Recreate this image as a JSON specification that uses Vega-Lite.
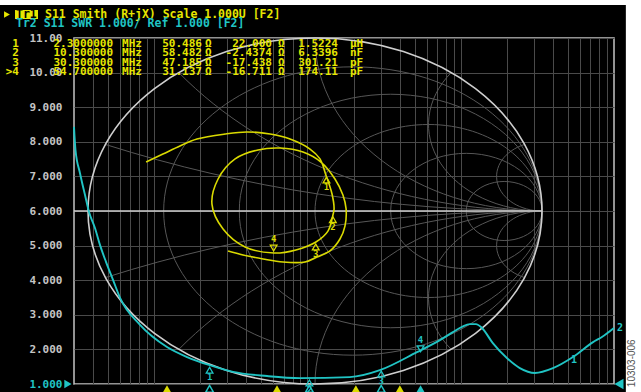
{
  "$schema": "https://vega.github.io/schema/vega-lite/v6.json",
  "width": 540,
  "height": 346,
  "autosize": {"type": "none"},
  "padding": {"left": 74, "top": 38, "right": 27, "bottom": 8},
  "background": "#000000",
  "config": {"view": {"stroke": "#c4c4c4", "strokeWidth": 1.5}},
  "data": {"values": [{}]},
  "datasets": {
    "swr": [
      {"f": 0.3, "swr": 8.43}, {"f": 0.3068, "swr": 7.76}, {"f": 0.328, "swr": 7.1}, {"f": 0.354, "swr": 6.46},
      {"f": 0.376, "swr": 5.97}, {"f": 0.411, "swr": 5.51}, {"f": 0.443, "swr": 5.02}, {"f": 0.485, "swr": 4.53},
      {"f": 0.539, "swr": 4.01}, {"f": 0.599, "swr": 3.49}, {"f": 0.809, "swr": 2.71}, {"f": 1.213, "swr": 2.07},
      {"f": 1.64, "swr": 1.78}, {"f": 2.28, "swr": 1.55}, {"f": 3.27, "swr": 1.35}, {"f": 5.45, "swr": 1.23},
      {"f": 8.94, "swr": 1.17}, {"f": 18.9, "swr": 1.2}, {"f": 29.7, "swr": 1.4}, {"f": 51.8, "swr": 1.92},
      {"f": 73.2, "swr": 2.27}, {"f": 89, "swr": 2.5}, {"f": 101.9, "swr": 2.65}, {"f": 114.8, "swr": 2.73},
      {"f": 125.6, "swr": 2.73}, {"f": 137.6, "swr": 2.62}, {"f": 162, "swr": 2.18}, {"f": 200, "swr": 1.75},
      {"f": 243, "swr": 1.46}, {"f": 305, "swr": 1.32}, {"f": 400, "swr": 1.46}, {"f": 540, "swr": 1.78},
      {"f": 730, "swr": 2.21}, {"f": 834, "swr": 2.36}, {"f": 1000, "swr": 2.62}
    ],
    "smith": [
      {"f": 0.3, "gr": -0.744, "gi": 0.283}, {"f": 0.33, "gr": -0.67, "gi": 0.329}, {"f": 0.37, "gr": -0.595, "gi": 0.376},
      {"f": 0.42, "gr": -0.52, "gi": 0.416}, {"f": 0.5, "gr": -0.396, "gi": 0.445}, {"f": 0.6, "gr": -0.3, "gi": 0.457},
      {"f": 0.75, "gr": -0.198, "gi": 0.445}, {"f": 0.95, "gr": -0.11, "gi": 0.416}, {"f": 1.2, "gr": -0.022, "gi": 0.358},
      {"f": 1.6, "gr": 0.022, "gi": 0.301}, {"f": 2.3, "gr": 0.048, "gi": 0.208}, {"f": 4, "gr": 0.075, "gi": 0.098},
      {"f": 7, "gr": 0.084, "gi": 0.012}, {"f": 10.3, "gr": 0.079, "gi": -0.023}, {"f": 20, "gr": 0.057, "gi": -0.116},
      {"f": 30.3, "gr": 0.004, "gi": -0.179}, {"f": 42, "gr": -0.084, "gi": -0.225}, {"f": 54.7, "gr": -0.181, "gi": -0.243},
      {"f": 70, "gr": -0.308, "gi": -0.208}, {"f": 90, "gr": -0.405, "gi": -0.104}, {"f": 115, "gr": -0.454, "gi": 0.04},
      {"f": 130, "gr": -0.427, "gi": 0.185}, {"f": 145, "gr": -0.352, "gi": 0.301}, {"f": 160, "gr": -0.251, "gi": 0.353},
      {"f": 175, "gr": -0.154, "gi": 0.364}, {"f": 195, "gr": -0.053, "gi": 0.341}, {"f": 215, "gr": 0.026, "gi": 0.283},
      {"f": 240, "gr": 0.088, "gi": 0.185}, {"f": 270, "gr": 0.123, "gi": 0.092}, {"f": 305, "gr": 0.137, "gi": 0.012},
      {"f": 360, "gr": 0.132, "gi": -0.087}, {"f": 420, "gr": 0.11, "gi": -0.162}, {"f": 490, "gr": 0.066, "gi": -0.231},
      {"f": 550, "gr": 0.009, "gi": -0.266}, {"f": 620, "gr": -0.044, "gi": -0.295}, {"f": 720, "gr": -0.141, "gi": -0.295},
      {"f": 820, "gr": -0.229, "gi": -0.277}, {"f": 910, "gr": -0.317, "gi": -0.254}, {"f": 1000, "gr": -0.383, "gi": -0.231}
    ],
    "markers": [
      {"m": 1, "num": "1", "freq": "2.3000000", "f": 2.3, "swr": 1.544, "gr": 0.0505, "gi": 0.2078, "R": "50.486", "X": "22.000", "LC": "1.5224", "unit": "µH"},
      {"m": 2, "num": "2", "freq": "10.300000", "f": 10.3, "swr": 1.177, "gr": 0.0787, "gi": -0.0207, "R": "58.482", "X": "-2.4374", "LC": "6.3396", "unit": "nF"},
      {"m": 3, "num": "3", "freq": "30.300000", "f": 30.3, "swr": 1.436, "gr": 0.0032, "gi": -0.1789, "R": "47.185", "X": "-17.438", "LC": "301.21", "unit": "pF"},
      {"m": 4, "num": ">4", "freq": "54.700000", "f": 54.7, "swr": 1.874, "gr": -0.1823, "gi": -0.2435, "R": "31.137", "X": "-16.711", "LC": "174.11", "unit": "pF"}
    ],
    "ticks": [
      {"f": 1.213, "trace": "Tr1", "active": false}, {"f": 6.33, "trace": "Tr1", "active": false},
      {"f": 20.7, "trace": "Tr1", "active": false}, {"f": 40.1, "trace": "Tr1", "active": true},
      {"f": 2.3, "trace": "Tr2", "active": false}, {"f": 10.3, "trace": "Tr2", "active": false},
      {"f": 30.3, "trace": "Tr2", "active": false}, {"f": 54.7, "trace": "Tr2", "active": true}
    ]
  },
  "layer": [
    {
      "mark": {"type": "rect", "color": "#ffffff"},
      "encoding": {
        "x": {"datum": 0.05, "type": "quantitative", "scale": {"type": "log", "domain": [0.3, 1000], "nice": false}, "axis": null},
        "x2": {"datum": 5000},
        "y": {"datum": 11.954, "type": "quantitative", "scale": {"domain": [1, 11], "nice": false, "zero": false}, "axis": null},
        "y2": {"datum": 14}
      }
    },
    {
      "mark": {"type": "rect", "color": "#ffffff"},
      "encoding": {
        "x": {"datum": 1195, "type": "quantitative", "scale": {"type": "log", "domain": [0.3, 1000], "nice": false}, "axis": null},
        "x2": {"datum": 5000},
        "y": {"datum": 0, "type": "quantitative", "scale": {"domain": [1, 11], "nice": false, "zero": false}, "axis": null},
        "y2": {"datum": 14}
      }
    },
    {
      "mark": {"type": "point", "filled": false, "opacity": 1, "color": "#575757", "strokeWidth": 1, "size": 206116,
        "shape": "M -0.6667 0 A 0.8333 0.6351 0 1 0 1 0 A 0.8333 0.6351 0 1 0 -0.6667 0 M -0.3333 0 A 0.6667 0.5081 0 1 0 1 0 A 0.6667 0.5081 0 1 0 -0.3333 0 M 0 0 A 0.5 0.3811 0 1 0 1 0 A 0.5 0.3811 0 1 0 0 0 M 0.3333 0 A 0.3333 0.254 0 1 0 1 0 A 0.3333 0.254 0 1 0 0.3333 0 M 0.6667 0 A 0.1667 0.127 0 1 0 1 0 A 0.1667 0.127 0 1 0 0.6667 0 M 1 0 A 5 3.8105 0 0 1 -0.9231 -0.2931 M 1 0 A 2 1.5242 0 0 1 -0.6 -0.6097 M 1 0 A 1 0.7621 0 0 1 0 -0.7621 M 1 0 A 0.5 0.3811 0 0 1 0.6 -0.6097 M 1 0 A 0.2 0.1524 0 0 1 0.9231 -0.2931 M 1 0 A 5 3.8105 0 0 0 -0.9231 0.2931 M 1 0 A 2 1.5242 0 0 0 -0.6 0.6097 M 1 0 A 1 0.7621 0 0 0 0 0.7621 M 1 0 A 0.5 0.3811 0 0 0 0.6 0.6097 M 1 0 A 0.2 0.1524 0 0 0 0.9231 0.2931"},
      "encoding": {
        "x": {"datum": 0, "type": "quantitative", "scale": {"domain": [-1.0617, 1.3172], "nice": false, "zero": false}, "axis": null},
        "y": {"datum": 0, "type": "quantitative", "scale": {"domain": [-1, 1], "nice": false, "zero": false}, "axis": null}
      }
    },
    {
      "mark": {"type": "point", "filled": false, "opacity": 1, "color": "#cfcfcf", "strokeWidth": 1.6, "size": 206116,
        "shape": "M -1 0 A 1 0.7621 0 1 0 1 0 A 1 0.7621 0 1 0 -1 0 M -1.0617 0 L 1 0"},
      "encoding": {
        "x": {"datum": 0, "type": "quantitative", "scale": {"domain": [-1.0617, 1.3172], "nice": false, "zero": false}, "axis": null},
        "y": {"datum": 0, "type": "quantitative", "scale": {"domain": [-1, 1], "nice": false, "zero": false}, "axis": null}
      }
    },
    {
      "data": {"name": "swr"},
      "mark": {"type": "line", "color": "#20c4c4", "strokeWidth": 1.9, "interpolate": "monotone"},
      "encoding": {
        "x": {"field": "f", "type": "quantitative", "scale": {"type": "log", "domain": [0.3, 1000], "nice": false},
          "axis": {"values": [0.4, 0.5, 0.6, 0.7, 0.8, 0.9, 1, 2, 3, 4, 5, 6, 7, 8, 9, 10, 20, 30, 40, 50, 60, 70, 80, 90, 100, 200, 300, 400, 500, 600, 700, 800, 900],
            "grid": true, "gridColor": "#4a4a4a", "gridWidth": 1, "labels": false, "ticks": false, "domain": false, "title": null}},
        "y": {"field": "swr", "type": "quantitative", "scale": {"domain": [1, 11], "nice": false, "zero": false},
          "axis": {"values": [1, 2, 3, 4, 5, 6, 7, 8, 9, 10, 11], "grid": true, "gridColor": "#4a4a4a", "gridWidth": 1,
            "ticks": false, "domain": false, "title": null, "labelPadding": 12, "labelFont": "DejaVu Sans Mono", "labelFontSize": 11, "labelFontWeight": "bold",
            "labelFlush": false, "labelOverlap": false, "labelBound": false,
            "labelExpr": "datum.value >= 10 ? format(datum.value, '.2f') : format(datum.value, '.3f')",
            "labelColor": {"condition": {"test": "datum.value == 1", "value": "#20c4c4"}, "value": "#c4c4c4"}}}
      }
    },
    {
      "data": {"name": "smith"},
      "mark": {"type": "line", "color": "#dada00", "strokeWidth": 1.6, "interpolate": "catmull-rom"},
      "encoding": {
        "x": {"field": "gr", "type": "quantitative", "scale": {"domain": [-1.0617, 1.3172], "nice": false, "zero": false}, "axis": null},
        "y": {"field": "gi", "type": "quantitative", "scale": {"domain": [-1, 1], "nice": false, "zero": false}, "axis": null},
        "order": {"field": "f", "type": "quantitative"}
      }
    },
    {
      "data": {"name": "markers"},
      "transform": [{"filter": "datum.m < 4"}],
      "layer": [
        {
          "mark": {"type": "point", "shape": "triangle-up", "filled": false, "opacity": 1, "color": "#20c4c4", "size": 45, "strokeWidth": 1.3, "yOffset": 5},
          "encoding": {
            "x": {"field": "f", "type": "quantitative", "scale": {"type": "log", "domain": [0.3, 1000], "nice": false}, "axis": null},
            "y": {"field": "swr", "type": "quantitative", "scale": {"domain": [1, 11], "nice": false, "zero": false}, "axis": null}
          }
        },
        {
          "mark": {"type": "text", "color": "#20c4c4", "font": "DejaVu Sans Mono", "fontSize": 9, "fontWeight": "bold", "dy": 12},
          "encoding": {
            "x": {"field": "f", "type": "quantitative", "scale": {"type": "log", "domain": [0.3, 1000], "nice": false}, "axis": null},
            "y": {"field": "swr", "type": "quantitative", "scale": {"domain": [1, 11], "nice": false, "zero": false}, "axis": null},
            "text": {"field": "m", "type": "nominal"}
          }
        },
        {
          "mark": {"type": "point", "shape": "triangle-up", "filled": false, "opacity": 1, "color": "#dada00", "size": 45, "strokeWidth": 1.3, "yOffset": 5},
          "encoding": {
            "x": {"field": "gr", "type": "quantitative", "scale": {"domain": [-1.0617, 1.3172], "nice": false, "zero": false}, "axis": null},
            "y": {"field": "gi", "type": "quantitative", "scale": {"domain": [-1, 1], "nice": false, "zero": false}, "axis": null}
          }
        },
        {
          "mark": {"type": "text", "color": "#dada00", "font": "DejaVu Sans Mono", "fontSize": 9, "fontWeight": "bold", "dy": 12},
          "encoding": {
            "x": {"field": "gr", "type": "quantitative", "scale": {"domain": [-1.0617, 1.3172], "nice": false, "zero": false}, "axis": null},
            "y": {"field": "gi", "type": "quantitative", "scale": {"domain": [-1, 1], "nice": false, "zero": false}, "axis": null},
            "text": {"field": "m", "type": "nominal"}
          }
        }
      ],
      "resolve": {"scale": {"x": "independent", "y": "independent"}}
    },
    {
      "data": {"name": "markers"},
      "transform": [{"filter": "datum.m == 4"}],
      "layer": [
        {
          "mark": {"type": "point", "shape": "triangle-down", "filled": false, "opacity": 1, "color": "#20c4c4", "size": 45, "strokeWidth": 1.3, "yOffset": -5},
          "encoding": {
            "x": {"field": "f", "type": "quantitative", "scale": {"type": "log", "domain": [0.3, 1000], "nice": false}, "axis": null},
            "y": {"field": "swr", "type": "quantitative", "scale": {"domain": [1, 11], "nice": false, "zero": false}, "axis": null}
          }
        },
        {
          "mark": {"type": "text", "color": "#20c4c4", "font": "DejaVu Sans Mono", "fontSize": 9, "fontWeight": "bold", "dy": -14},
          "encoding": {
            "x": {"field": "f", "type": "quantitative", "scale": {"type": "log", "domain": [0.3, 1000], "nice": false}, "axis": null},
            "y": {"field": "swr", "type": "quantitative", "scale": {"domain": [1, 11], "nice": false, "zero": false}, "axis": null},
            "text": {"field": "m", "type": "nominal"}
          }
        },
        {
          "mark": {"type": "point", "shape": "triangle-down", "filled": false, "opacity": 1, "color": "#dada00", "size": 45, "strokeWidth": 1.3, "yOffset": -5},
          "encoding": {
            "x": {"field": "gr", "type": "quantitative", "scale": {"domain": [-1.0617, 1.3172], "nice": false, "zero": false}, "axis": null},
            "y": {"field": "gi", "type": "quantitative", "scale": {"domain": [-1, 1], "nice": false, "zero": false}, "axis": null}
          }
        },
        {
          "mark": {"type": "text", "color": "#dada00", "font": "DejaVu Sans Mono", "fontSize": 9, "fontWeight": "bold", "dy": -14},
          "encoding": {
            "x": {"field": "gr", "type": "quantitative", "scale": {"domain": [-1.0617, 1.3172], "nice": false, "zero": false}, "axis": null},
            "y": {"field": "gi", "type": "quantitative", "scale": {"domain": [-1, 1], "nice": false, "zero": false}, "axis": null},
            "text": {"field": "m", "type": "nominal"}
          }
        }
      ],
      "resolve": {"scale": {"x": "independent", "y": "independent"}}
    },
    {
      "mark": {"type": "text", "color": "#20c4c4", "font": "DejaVu Sans Mono", "fontSize": 10, "fontWeight": "bold", "text": "1"},
      "encoding": {
        "x": {"datum": 548, "type": "quantitative", "scale": {"type": "log", "domain": [0.3, 1000], "nice": false}, "axis": null},
        "y": {"datum": 1.69, "type": "quantitative", "scale": {"domain": [1, 11], "nice": false, "zero": false}, "axis": null}
      }
    },
    {
      "mark": {"type": "text", "color": "#20c4c4", "font": "DejaVu Sans Mono", "fontSize": 10, "fontWeight": "bold", "text": "2"},
      "encoding": {
        "x": {"datum": 1093, "type": "quantitative", "scale": {"type": "log", "domain": [0.3, 1000], "nice": false}, "axis": null},
        "y": {"datum": 2.62, "type": "quantitative", "scale": {"domain": [1, 11], "nice": false, "zero": false}, "axis": null}
      }
    },
    {
      "data": {"name": "ticks"},
      "transform": [{"filter": "datum.trace == 'Tr1' || datum.active"}],
      "mark": {"type": "point", "shape": "triangle-up", "filled": true, "opacity": 1, "size": 70},
      "encoding": {
        "x": {"field": "f", "type": "quantitative", "scale": {"type": "log", "domain": [0.3, 1000], "nice": false}, "axis": null},
        "y": {"datum": 0.86, "type": "quantitative", "scale": {"domain": [1, 11], "nice": false, "zero": false}, "axis": null},
        "color": {"field": "trace", "type": "nominal", "scale": {"domain": ["Tr1", "Tr2"], "range": ["#dada00", "#20c4c4"]}, "legend": null}
      }
    },
    {
      "data": {"name": "ticks"},
      "transform": [{"filter": "datum.trace == 'Tr2' && !datum.active"}],
      "mark": {"type": "point", "shape": "triangle-up", "filled": false, "opacity": 1, "size": 60, "strokeWidth": 1.5},
      "encoding": {
        "x": {"field": "f", "type": "quantitative", "scale": {"type": "log", "domain": [0.3, 1000], "nice": false}, "axis": null},
        "y": {"datum": 0.86, "type": "quantitative", "scale": {"domain": [1, 11], "nice": false, "zero": false}, "axis": null},
        "color": {"field": "trace", "type": "nominal", "scale": {"domain": ["Tr1", "Tr2"], "range": ["#dada00", "#20c4c4"]}, "legend": null}
      }
    },
    {
      "mark": {"type": "point", "shape": "triangle-right", "filled": true, "opacity": 1, "color": "#20c4c4", "size": 70},
      "encoding": {
        "x": {"datum": 0.274, "type": "quantitative", "scale": {"type": "log", "domain": [0.3, 1000], "nice": false}, "axis": null},
        "y": {"datum": 1, "type": "quantitative", "scale": {"domain": [1, 11], "nice": false, "zero": false}, "axis": null}
      }
    },
    {
      "mark": {"type": "point", "shape": "triangle-left", "filled": true, "opacity": 1, "color": "#20c4c4", "size": 110},
      "encoding": {
        "x": {"datum": 1077, "type": "quantitative", "scale": {"type": "log", "domain": [0.3, 1000], "nice": false}, "axis": null},
        "y": {"datum": 1, "type": "quantitative", "scale": {"domain": [1, 11], "nice": false, "zero": false}, "axis": null}
      }
    },
    {
      "mark": {"type": "point", "shape": "triangle-right", "filled": true, "opacity": 1, "color": "#e6e600", "size": 45},
      "encoding": {
        "x": {"datum": 0.1096, "type": "quantitative", "scale": {"type": "log", "domain": [0.3, 1000], "nice": false}, "axis": null},
        "y": {"datum": 11.679, "type": "quantitative", "scale": {"domain": [1, 11], "nice": false, "zero": false}, "axis": null}
      }
    },
    {
      "mark": {"type": "rect", "color": "#e6e600"},
      "encoding": {
        "x": {"datum": 0.1237, "type": "quantitative", "scale": {"type": "log", "domain": [0.3, 1000], "nice": false}, "axis": null},
        "x2": {"datum": 0.1747},
        "y": {"datum": 11.549, "type": "quantitative", "scale": {"domain": [1, 11], "nice": false, "zero": false}, "axis": null},
        "y2": {"datum": 11.809}
      }
    },
    {
      "mark": {"type": "text", "align": "left", "baseline": "middle", "color": "#000000", "font": "DejaVu Sans Mono", "fontSize": 11.5, "fontWeight": "bold", "text": "Tr1"},
      "encoding": {
        "x": {"datum": 0.1255, "type": "quantitative", "scale": {"type": "log", "domain": [0.3, 1000], "nice": false}, "axis": null},
        "y": {"datum": 11.679, "type": "quantitative", "scale": {"domain": [1, 11], "nice": false, "zero": false}, "axis": null}
      }
    },
    {
      "mark": {"type": "text", "align": "left", "baseline": "middle", "color": "#e6e600", "font": "DejaVu Sans Mono", "fontSize": 11.5, "fontWeight": "bold", "text": "S11 Smith (R+jX) Scale 1.000U [F2]"},
      "encoding": {
        "x": {"datum": 0.194, "type": "quantitative", "scale": {"type": "log", "domain": [0.3, 1000], "nice": false}, "axis": null},
        "y": {"datum": 11.679, "type": "quantitative", "scale": {"domain": [1, 11], "nice": false, "zero": false}, "axis": null}
      }
    },
    {
      "mark": {"type": "text", "align": "left", "baseline": "middle", "color": "#20c4c4", "font": "DejaVu Sans Mono", "fontSize": 11.5, "fontWeight": "bold", "text": "Tr2 S11 SWR 1.000/ Ref 1.000 [F2]"},
      "encoding": {
        "x": {"datum": 0.1255, "type": "quantitative", "scale": {"type": "log", "domain": [0.3, 1000], "nice": false}, "axis": null},
        "y": {"datum": 11.419, "type": "quantitative", "scale": {"domain": [1, 11], "nice": false, "zero": false}, "axis": null}
      }
    },
    {
      "data": {"name": "markers"},
      "encoding": {
        "y": {"field": "m", "type": "quantitative", "scale": {"domain": [0.31, 38.19], "reverse": true, "nice": false, "zero": false}, "axis": null}
      },
      "layer": [
        {"mark": {"type": "text", "align": "right", "baseline": "middle", "color": "#e6e600", "font": "DejaVu Sans Mono", "fontSize": 11, "fontWeight": "bold"},
          "encoding": {"x": {"datum": 0.1313, "type": "quantitative", "scale": {"type": "log", "domain": [0.3, 1000], "nice": false}, "axis": null}, "text": {"field": "num"}}},
        {"mark": {"type": "text", "align": "right", "baseline": "middle", "color": "#e6e600", "font": "DejaVu Sans Mono", "fontSize": 11, "fontWeight": "bold"},
          "encoding": {"x": {"datum": 0.539, "type": "quantitative", "scale": {"type": "log", "domain": [0.3, 1000], "nice": false}, "axis": null}, "text": {"field": "freq"}}},
        {"mark": {"type": "text", "align": "left", "baseline": "middle", "color": "#e6e600", "font": "DejaVu Sans Mono", "fontSize": 11, "fontWeight": "bold", "text": "MHz"},
          "encoding": {"x": {"datum": 0.617, "type": "quantitative", "scale": {"type": "log", "domain": [0.3, 1000], "nice": false}, "axis": null}}},
        {"mark": {"type": "text", "align": "right", "baseline": "middle", "color": "#e6e600", "font": "DejaVu Sans Mono", "fontSize": 11, "fontWeight": "bold"},
          "encoding": {"x": {"datum": 2.052, "type": "quantitative", "scale": {"type": "log", "domain": [0.3, 1000], "nice": false}, "axis": null}, "text": {"field": "R"}}},
        {"mark": {"type": "text", "align": "left", "baseline": "middle", "color": "#e6e600", "font": "DejaVu Sans Mono", "fontSize": 11, "fontWeight": "bold", "text": "Ω"},
          "encoding": {"x": {"datum": 2.146, "type": "quantitative", "scale": {"type": "log", "domain": [0.3, 1000], "nice": false}, "axis": null}}},
        {"mark": {"type": "text", "align": "right", "baseline": "middle", "color": "#e6e600", "font": "DejaVu Sans Mono", "fontSize": 11, "fontWeight": "bold"},
          "encoding": {"x": {"datum": 5.868, "type": "quantitative", "scale": {"type": "log", "domain": [0.3, 1000], "nice": false}, "axis": null}, "text": {"field": "X"}}},
        {"mark": {"type": "text", "align": "left", "baseline": "middle", "color": "#e6e600", "font": "DejaVu Sans Mono", "fontSize": 11, "fontWeight": "bold", "text": "Ω"},
          "encoding": {"x": {"datum": 6.42, "type": "quantitative", "scale": {"type": "log", "domain": [0.3, 1000], "nice": false}, "axis": null}}},
        {"mark": {"type": "text", "align": "right", "baseline": "middle", "color": "#e6e600", "font": "DejaVu Sans Mono", "fontSize": 11, "fontWeight": "bold"},
          "encoding": {"x": {"datum": 15.82, "type": "quantitative", "scale": {"type": "log", "domain": [0.3, 1000], "nice": false}, "axis": null}, "text": {"field": "LC"}}},
        {"mark": {"type": "text", "align": "left", "baseline": "middle", "color": "#e6e600", "font": "DejaVu Sans Mono", "fontSize": 11, "fontWeight": "bold"},
          "encoding": {"x": {"datum": 18.94, "type": "quantitative", "scale": {"type": "log", "domain": [0.3, 1000], "nice": false}, "axis": null}, "text": {"field": "unit"}}}
      ],
      "resolve": {"scale": {"x": "independent"}}
    },
    {
      "mark": {"type": "text", "angle": 270, "align": "center", "baseline": "middle", "color": "#555555", "font": "Liberation Sans", "fontSize": 10, "text": "10303-006"},
      "encoding": {
        "x": {"datum": 1309, "type": "quantitative", "scale": {"type": "log", "domain": [0.3, 1000], "nice": false}, "axis": null},
        "y": {"datum": 1.6, "type": "quantitative", "scale": {"domain": [1, 11], "nice": false, "zero": false}, "axis": null}
      }
    }
  ],
  "resolve": {"scale": {"x": "independent", "y": "independent"}}
}
